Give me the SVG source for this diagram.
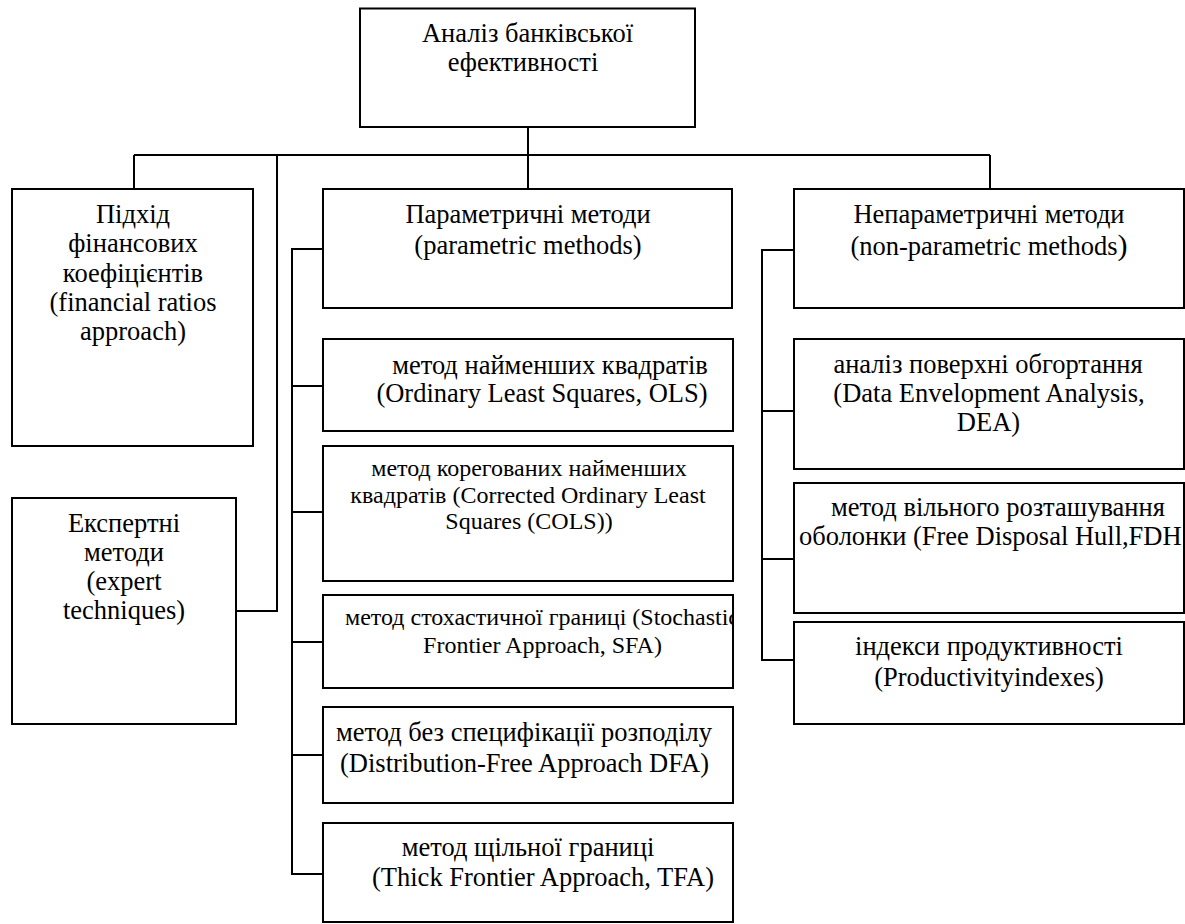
<svg xmlns="http://www.w3.org/2000/svg" width="1185" height="924" viewBox="0 0 1185 924">
<style>
.box{fill:#fff;stroke:#000;stroke-width:2}
.ln{fill:none;stroke:#000;stroke-width:2}
text{font-family:"Liberation Serif","Times New Roman",serif;font-size:26.5px;fill:#000;text-anchor:middle}
.s{font-size:24px}
.st{text-anchor:start}
</style>
<defs>
<clipPath id="clipSFA"><rect x="324" y="596" width="408" height="91"/></clipPath>
</defs>
<rect width="1185" height="924" fill="#fff"/>
<g id="connectors">
<path class="ln" d="M528,127V189M134,155H990M134,155V189M990,155V189M277,155V611H236"/>
<path class="ln" d="M323,249H292V874H323M292,386H323M292,512H323M292,642H323M292,755H323"/>
<path class="ln" d="M794,250H762V660H794M762,411H794M762,559H794"/>
</g>
<g id="n_top"><rect class="box" x="360" y="8.5" width="335" height="118.5"/>
<text x="527.5" y="42">Аналіз банківської</text><text x="523" y="71">ефективності</text></g>
<g id="n_ratios"><rect class="box" x="12" y="189" width="241" height="257"/>
<text x="133" y="223">Підхід</text><text x="133" y="252">фінансових</text><text x="133" y="281.5">коефіцієнтів</text><text x="133" y="311">(financial ratios</text><text x="133" y="340">approach)</text></g>
<g id="n_expert"><rect class="box" x="12" y="498" width="224" height="226"/>
<text x="124" y="532">Експертні</text><text x="124" y="561">методи</text><text x="124" y="590">(expert</text><text x="124" y="619">techniques)</text></g>
<g id="n_param"><rect class="box" x="323" y="189" width="409" height="119"/>
<text x="528" y="223">Параметричні методи</text><text x="528" y="254">(parametric methods)</text></g>
<g id="n_nonparam"><rect class="box" x="794" y="189" width="390" height="119"/>
<text x="989" y="223">Непараметричні методи</text><text x="989" y="255">(non-parametric methods<tspan font-size="30">)</tspan></text></g>
<g id="n_ols"><rect class="box" x="323" y="339" width="410" height="92"/>
<text x="550" y="374">метод найменших квадратів</text><text x="542" y="402">(Ordinary Least Squares, OLS)</text></g>
<g id="n_cols"><rect class="box" x="323" y="446" width="410" height="135"/>
<text class="s" x="529" y="476">метод корегованих найменших</text><text class="s" x="528" y="503">квадратів (Corrected Ordinary Least</text><text class="s" x="529" y="529">Squares (COLS))</text></g>
<g id="n_sfa"><rect class="box" x="323" y="595" width="410" height="93"/>
<g clip-path="url(#clipSFA)"><text class="s st" x="345" y="625">метод стохастичної границі (Stochastic</text></g><text class="s" x="542.5" y="653">Frontier Approach, SFA)</text></g>
<g id="n_dfa"><rect class="box" x="323" y="707" width="410" height="96"/>
<text x="524" y="741">метод без специфікації розподілу</text><text x="524.5" y="772">(Distribution-Free Approach DFA)</text></g>
<g id="n_tfa"><rect class="box" x="323" y="823" width="410" height="99"/>
<text x="528" y="856">метод щільної границі</text><text x="543" y="886">(Thick Frontier Approach, TFA)</text></g>
<g id="n_dea"><rect class="box" x="794" y="339" width="390" height="130"/>
<text x="988" y="373">аналіз поверхні обгортання</text><text x="989" y="402">(Data Envelopment Analysis,</text><text x="988.5" y="431">DEA)</text></g>
<g id="n_fdh"><rect class="box" x="794" y="483" width="390" height="130"/>
<text x="998" y="516">метод вільного розташування</text><text class="st" x="799" y="545">оболонки (Free Disposal Hull,FDH</text></g>
<g id="n_prod"><rect class="box" x="794" y="622" width="390" height="102"/>
<text x="989" y="655">індекси продуктивності</text><text x="989" y="686">(Productivityindexes)</text></g>
</svg>
